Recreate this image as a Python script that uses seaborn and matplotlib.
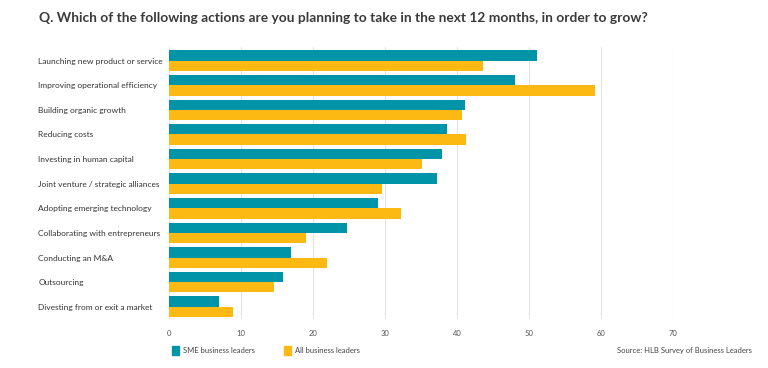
import matplotlib
matplotlib.use("Agg")
import matplotlib.pyplot as plt
import pandas as pd
import seaborn as sns

# survey data (% of respondents)
actions = [
    "Launching new product or service",
    "Improving operational efficiency",
    "Building organic growth",
    "Reducing costs",
    "Investing in human capital",
    "Joint venture / strategic alliances",
    "Adopting emerging technology",
    "Collaborating with entrepreneurs",
    "Conducting an M&A",
    "Outsourcing",
    "Divesting from or exit a market",
]
sme_leaders = [51.2, 48.1, 41.2, 38.6, 37.9, 37.3, 29.1, 24.7, 17.0, 15.8, 6.9]
all_leaders = [43.7, 59.2, 40.7, 41.3, 35.2, 29.6, 32.2, 19.0, 21.9, 14.6, 8.9]
series_names = ["SME business leaders", "All business leaders"]
x_ticks = [0, 10, 20, 30, 40, 50, 60, 70]

TEAL = "#0094A8"
AMBER = "#FDB913"

df = pd.DataFrame({
    "action": actions * 2,
    "value": sme_leaders + all_leaders,
    "group": [series_names[0]] * len(actions) + [series_names[1]] * len(actions),
})

sns.set_style("white")
plt.rcParams["font.family"] = ["Lato", "DejaVu Sans"]

fig = plt.figure(figsize=(7.68, 3.68), dpi=100)
ax = fig.add_axes([0.22, 0.133, 0.656, 0.739])

sns.barplot(data=df, x="value", y="action", hue="group", orient="h",
            palette=[TEAL, AMBER], saturation=1, width=0.84, gap=0, ax=ax,
            edgecolor="none", legend=False)

ax.set_xlim(0, 70)
ax.set_ylim(len(actions) - 0.5, -0.55)
ax.set_xticks(x_ticks)
ax.set_xticklabels([str(t) for t in x_ticks], fontsize=5.5, color="#555555")
ax.grid(axis="x", color="#e3e3e3", linewidth=0.8)
ax.set_axisbelow(True)
ax.set_xlabel("")
ax.set_ylabel("")
sns.despine(ax=ax, left=True, bottom=True)
ax.tick_params(axis="x", length=0, pad=8)
ax.tick_params(axis="y", length=0, pad=94)
for lbl in ax.get_yticklabels():
    lbl.set_horizontalalignment("left")
    lbl.set_fontsize(6)
    lbl.set_color("#333333")

fig.text(0.051, 0.95,
         "Q. Which of the following actions are you planning to take in the next 12 months, in order to grow?",
         fontsize=9.9, fontweight="bold", color="#3a3a3a", ha="left", va="center")

# legend
for i, (name, col) in enumerate(zip(series_names, [TEAL, AMBER])):
    x0 = 172 / 768 + i * 112 / 768
    fig.patches.append(plt.Rectangle((x0, 0.035), 7 / 768, 9 / 368,
                                     transform=fig.transFigure, color=col))
    fig.text(x0 + 11 / 768, 0.047, name, fontsize=5.5, color="#444444",
             ha="left", va="center")

fig.text(752 / 768, 0.047, "Source: HLB Survey of Business Leaders",
         fontsize=5.5, color="#444444", ha="right", va="center")

fig.savefig("out.png", dpi=100)
